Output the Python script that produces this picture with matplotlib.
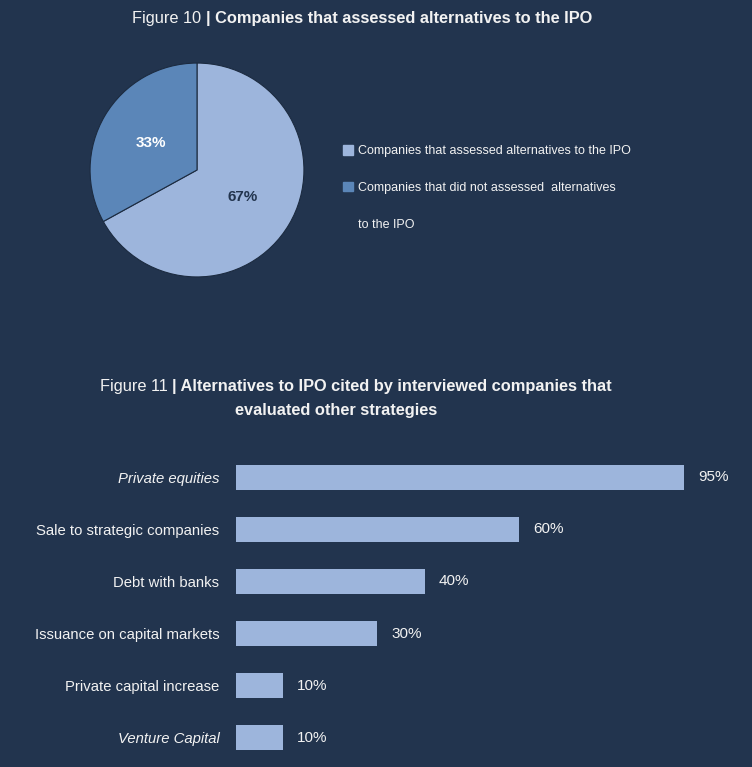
import matplotlib.pyplot as plt
from matplotlib.patches import Patch
import matplotlib.font_manager as fm

bg = '#22344e'
light = '#9db5dc'
dark = '#5b86b8'
txt = '#f2f2f2'

names = set(f.name for f in fm.fontManager.ttflist)
fam = ['Liberation Sans Narrow', 'Liberation Sans'] if 'Liberation Sans Narrow' in names else ['Liberation Sans']
plt.rcParams['font.family'] = fam

# figure 10 data
pie_labels = ['Companies that assessed alternatives to the IPO',
              'Companies that did not assessed  alternatives']
pie_values = [67, 33]

# figure 11 data
bar_labels = ['Private equities', 'Sale to strategic companies', 'Debt with banks',
              'Issuance on capital markets', 'Private capital increase', 'Venture Capital']
bar_values = [95, 60, 40, 30, 10, 10]
italic_rows = ['Private equities', 'Venture Capital']

fig = plt.figure(figsize=(7.52, 7.67), dpi=100, facecolor=bg)
W, H = 752, 767

def title(y, regular, bold, cx, size=11.75):
    # regular prefix + bold rest, centred as one line
    r = fig.canvas.get_renderer()
    t1 = fig.text(0, y, regular, color=txt, fontsize=size, va='center')
    t2 = fig.text(0, y, bold, color=txt, fontsize=size, fontweight='bold', va='center')
    w1 = t1.get_window_extent(r).width
    w2 = t2.get_window_extent(r).width
    x0 = cx - (w1 + w2) / 2
    t1.set_x(x0 / W)
    t2.set_x((x0 + w1) / W)

title(1 - 19 / H, 'Figure 10 ', '| Companies that assessed alternatives to the IPO', 362)
title(1 - 387 / H, 'Figure 11 ', '| Alternatives to IPO cited by interviewed companies that', 356)
fig.text(336 / W, 1 - 411 / H, 'evaluated other strategies', color=txt, fontsize=11.75,
         fontweight='bold', ha='center', va='center')

# pie
ax1 = fig.add_axes([89 / W, 1 - 278 / H, 216 / W, 216 / H])
ax1.set_facecolor(bg)
wedges, _, autotexts = ax1.pie(pie_values, colors=[light, dark], startangle=90,
                               counterclock=False, autopct='%d%%', pctdistance=0.5,
                               wedgeprops=dict(edgecolor='#1c2b40', linewidth=0.8),
                               textprops=dict(fontsize=11, fontweight='bold'))
autotexts[0].set_color(bg)
autotexts[1].set_color('white')
ax1.set_xlim(-1.01, 1.01)
ax1.set_ylim(-1.01, 1.01)
ax1.set_aspect('equal')

leg = fig.legend([Patch(color=light), Patch(color=dark)], pie_labels,
                 loc='upper left', bbox_to_anchor=(332 / W, 1 - 134 / H),
                 frameon=False, fontsize=9, labelcolor=txt,
                 handlelength=0.8, handleheight=0.8, handletextpad=0.35,
                 labelspacing=1.95)
fig.text(358 / W, 1 - 225 / H, 'to the IPO', color=txt, fontsize=9, va='center')

# bars
ax2 = fig.add_axes([236 / W, 1 - 764 / H, 471.6 / W, 313 / H])
ax2.set_facecolor(bg)
ypos = list(range(len(bar_values)))
ax2.barh(ypos, bar_values, height=0.48, color=light)
ax2.set_xlim(0, 100)
ax2.set_ylim(len(bar_values) - 0.5, -0.5)
ax2.set_yticks(ypos)
ax2.set_yticklabels(bar_labels, fontsize=10.75, color=txt)
for lab in ax2.get_yticklabels():
    if lab.get_text() in italic_rows:
        lab.set_style('italic')
ax2.tick_params(axis='y', length=0, pad=12)
ax2.set_xticks([])
for s in ax2.spines.values():
    s.set_visible(False)
for y, v in zip(ypos, bar_values):
    ax2.annotate(f'{v}%', (v, y), xytext=(10, 0), textcoords='offset points',
                 color=txt, fontsize=11, va='center')

fig.savefig('out.png', dpi=100, facecolor=bg)
